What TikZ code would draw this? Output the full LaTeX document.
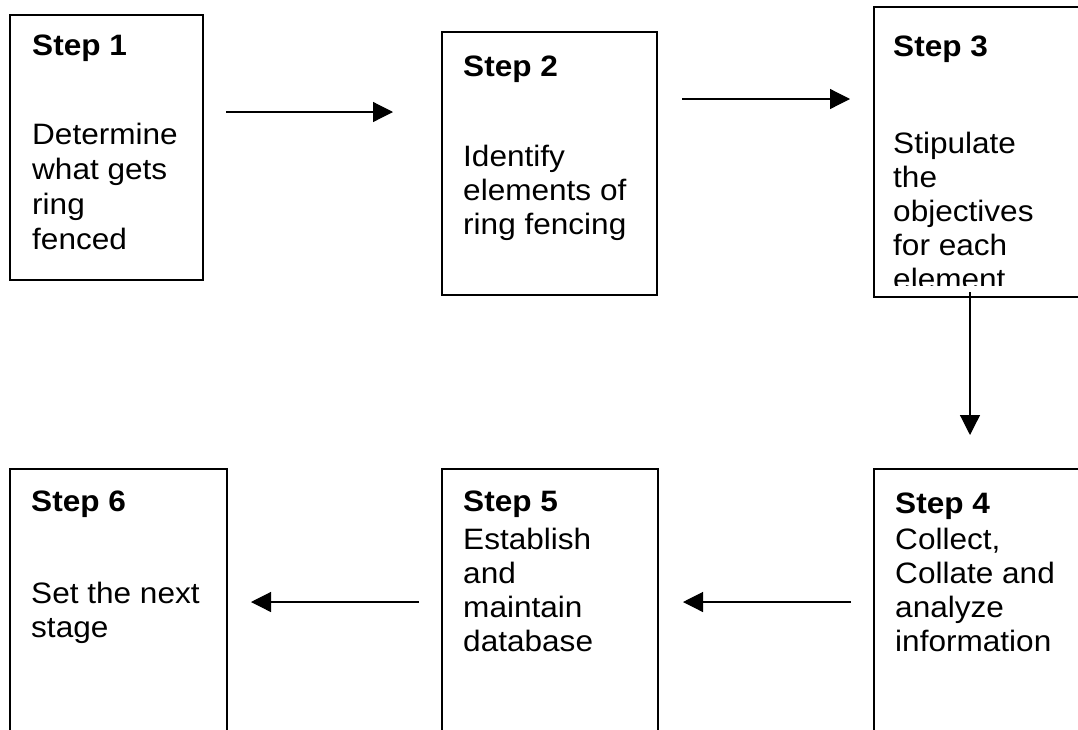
\documentclass[tikz,border=0pt]{standalone}
\usepackage{fontspec}
\setmainfont[FakeStretch=1.07]{Liberation Sans}
\usetikzlibrary{arrows.meta}
\begin{document}
\begin{tikzpicture}[x=1pt,y=-1pt,
  box/.style={draw=black,line width=1.2pt,fill=none,inner sep=0pt,outer sep=0pt,anchor=north west,rectangle},
  txt/.style={anchor=base west,inner sep=0pt,font=\fontsize{29.5}{34}\selectfont,align=left},
  ttl/.style={txt,font=\fontsize{29.5}{34}\selectfont\bfseries},
  arr/.style={line width=1.2pt,-{Triangle[length=20pt,width=20pt]}}]
\useasboundingbox (0,0) rectangle (1078,729);
\clip (0,0) rectangle (1078,729);
\fill[white] (0,0) rectangle (1078,729);
% boxes
\node[box,minimum width=193pt,minimum height=265pt] (s1) at (10,15) {};
\node[box,minimum width=215pt,minimum height=263pt] (s2) at (442,32) {};
\node[box,minimum width=226pt,minimum height=290pt] (s3) at (874,7) {};
\node[box,minimum width=226pt,minimum height=291pt] (s4) at (874,469) {};
\node[box,minimum width=216pt,minimum height=291pt] (s5) at (442,469) {};
\node[box,minimum width=217pt,minimum height=291pt] (s6) at (10,469) {};
% connector ends
\coordinate (b1r) at (226,112);
\coordinate (b2l) at (393,112);
\coordinate (b2r) at (682,99);
\coordinate (b3l) at (850,99);
\coordinate (b3b) at (970,292);
\coordinate (b4t) at (970,435);
\coordinate (b4l) at (851,602);
\coordinate (b5r) at (683,602);
\coordinate (b5l) at (419,602);
\coordinate (b6r) at (251,602);
% texts
\node[ttl] (t1) at (32,55) {Step 1};
\node[txt] (d1a) at (32,144) {Determine};
\node[txt] (d1b) at (32,179) {what gets};
\node[txt] (d1c) at (32,214) {ring};
\node[txt] (d1d) at (32,249) {fenced};
\node[ttl] (t2) at (463,76) {Step 2};
\node[txt] (d2a) at (463,166) {Identify};
\node[txt] (d2b) at (463,200) {elements of};
\node[txt] (d2c) at (463,234) {ring fencing};
\node[ttl] (t3) at (893,56) {Step 3};
\begin{scope}
\clip (874,7) rectangle (1100,285);
\node[txt] (d3a) at (893,153) {Stipulate};
\node[txt] (d3b) at (893,187) {the};
\node[txt] (d3c) at (893,221) {objectives};
\node[txt] (d3d) at (893,255) {for each};
\node[txt] (d3e) at (893,289) {element};
\end{scope}
\node[ttl] (t4) at (895,513) {Step 4};
\node[txt] (d4a) at (895,549) {Collect,};
\node[txt] (d4b) at (895,583) {Collate and};
\node[txt] (d4c) at (895,617) {analyze};
\node[txt] (d4d) at (895,651) {information};
\node[ttl] (t5) at (463,511) {Step 5};
\node[txt] (d5a) at (463,549) {Establish};
\node[txt] (d5b) at (463,583) {and};
\node[txt] (d5c) at (463,617) {maintain};
\node[txt] (d5d) at (463,651) {database};
\node[ttl] (t6) at (31,511) {Step 6};
\node[txt] (d6a) at (31,603) {Set the next};
\node[txt] (d6b) at (31,637) {stage};
% arrows
\draw[arr] (b1r) -- (b2l);
\draw[arr] (b2r) -- (b3l);
\draw[arr] (b3b) -- (b4t);
\draw[arr] (b4l) -- (b5r);
\draw[arr] (b5l) -- (b6r);
\end{tikzpicture}
\end{document}
